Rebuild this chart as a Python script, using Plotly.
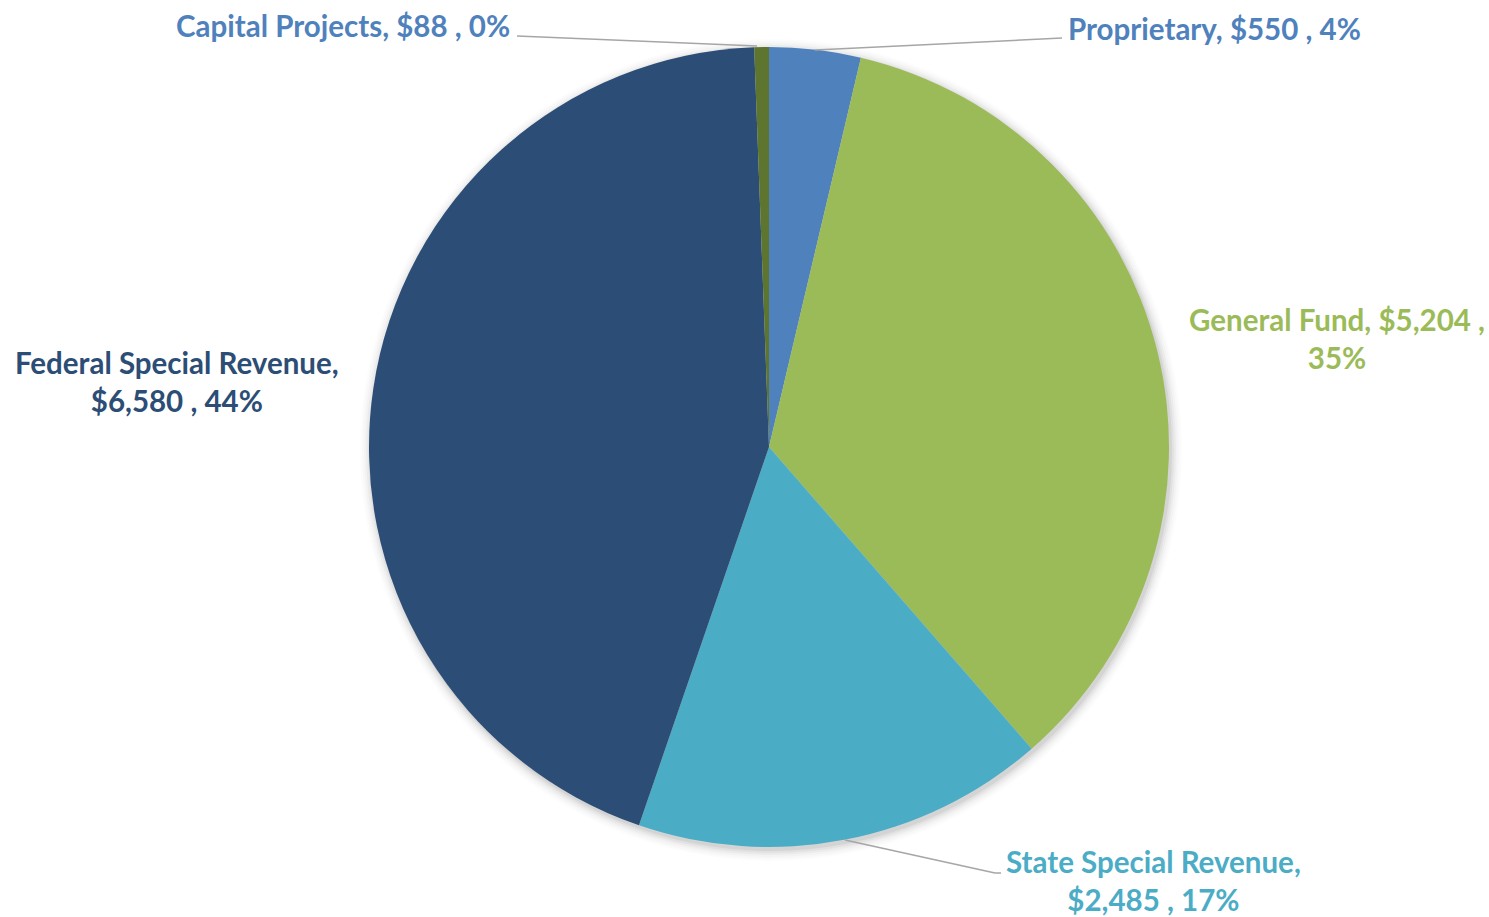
import plotly.graph_objects as go

# Fund sources (in $ millions), clockwise from 12 o'clock
funds = ["Proprietary", "General Fund", "State Special Revenue",
         "Federal Special Revenue", "Capital Projects"]
amounts = [550, 5204, 2485, 6580, 88]
percents = [4, 35, 17, 44, 0]
colors = ["#4F81BD", "#9BBB59", "#4BACC6", "#2C4D75", "#5E7530"]
label_colors = ["#4F81BD", "#9BBB59", "#4BACC6", "#2C4D75", "#4F81BD"]

W, H = 1489, 917
CX, CY, R = 769, 447, 400

def px(x):
    return x / W

def py(y):
    return 1 - y / H

fig = go.Figure(go.Pie(
    labels=funds,
    values=amounts,
    marker=dict(colors=colors, line=dict(width=0)),
    sort=False,
    direction="clockwise",
    rotation=0,
    textinfo="none",
    hoverinfo="skip",
    showlegend=False,
    domain=dict(x=[px(CX - R), px(CX + R)], y=[py(CY + R), py(CY - R)]),
))

# soft drop shadow under the pie
shapes = []
for i, op in enumerate([0.05, 0.04, 0.03, 0.02, 0.015, 0.01]):
    r = R + 1 + i * 2
    shapes.append(dict(type="circle", xref="paper", yref="paper",
                       x0=px(CX + 2 - r), x1=px(CX + 2 + r),
                       y0=py(CY + 3 + r), y1=py(CY + 3 - r),
                       fillcolor=f"rgba(0,0,0,{op})", line=dict(width=0),
                       layer="below"))

# leader lines
leaders = [
    [(815, 50), (1062, 38)],                # Proprietary
    [(845, 840), (995, 873), (1001, 873)],  # State Special Revenue
    [(757, 46), (517, 36)],                 # Capital Projects
]
for pts in leaders:
    for (x0, y0), (x1, y1) in zip(pts[:-1], pts[1:]):
        shapes.append(dict(type="line", xref="paper", yref="paper",
                           x0=px(x0), y0=py(y0), x1=px(x1), y1=py(y1),
                           line=dict(color="#A6A6A6", width=1.5)))

font_family = "Lato"
fs = 29.5

annotations = [
    dict(text=f"{funds[0]}, ${amounts[0]:,} , {percents[0]}%",
         x=px(1066), y=py(28), xanchor="left", yanchor="middle",
         font=dict(color=label_colors[0])),
    dict(text=f"{funds[1]}, ${amounts[1]:,} ,<br>{percents[1]}%",
         x=px(1337), y=py(338), xanchor="center", yanchor="middle", align="center",
         font=dict(color=label_colors[1])),
    dict(text=f"{funds[2]},<br>${amounts[2]:,} , {percents[2]}%",
         x=px(1153), y=py(880), xanchor="center", yanchor="middle", align="center",
         font=dict(color=label_colors[2])),
    dict(text=f"{funds[3]},<br>${amounts[3]:,} , {percents[3]}%",
         x=px(177), y=py(381), xanchor="center", yanchor="middle", align="center",
         font=dict(color=label_colors[3])),
    dict(text=f"{funds[4]}, ${amounts[4]:,} , {percents[4]}%",
         x=px(512), y=py(26), xanchor="right", yanchor="middle",
         font=dict(color=label_colors[4])),
]
for a in annotations:
    a.update(xref="paper", yref="paper", showarrow=False)
    a["font"].update(family=font_family, size=fs, weight="bold")

fig.update_layout(
    width=W, height=H,
    margin=dict(l=0, r=0, t=0, b=0),
    paper_bgcolor="white",
    plot_bgcolor="white",
    shapes=shapes,
    annotations=annotations,
)

fig.write_html("out.html")
